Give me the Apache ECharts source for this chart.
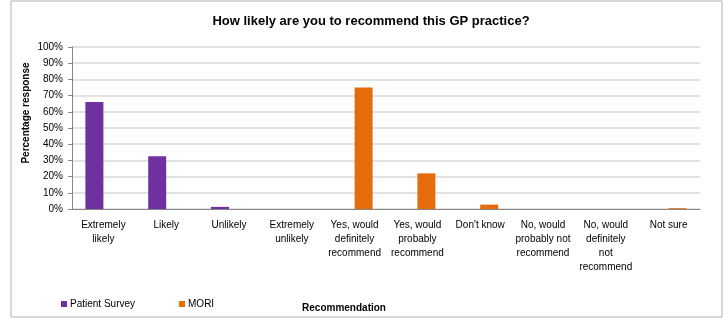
<!DOCTYPE html>
<html>
<head>
<meta charset="utf-8">
<script src="https://cdn.jsdelivr.net/npm/echarts@6/dist/echarts.min.js"></script>
<style>
  html, body { margin: 0; padding: 0; background: #fff; }
  #chart { width: 727px; height: 318px; }
</style>
</head>
<body>
<div id="chart"></div>
<script>
    var categories = [
        'Extremely\nlikely', 'Likely', 'Unlikely', 'Extremely\nunlikely',
        'Yes, would\ndefinitely\nrecommend', 'Yes, would\nprobably\nrecommend',
        "Don't know", 'No, would\nprobably not\nrecommend',
        'No, would\ndefinitely\nnot\nrecommend', 'Not sure'
    ];
    var patientSurvey = [66, 32.5, 1.3, 0, '-', '-', '-', '-', '-', '-'];
    var mori = ['-', '-', '-', '-', 75, 22, 2.7, 0, 0, 0.5];
    var yTicks = [0, 10, 20, 30, 40, 50, 60, 70, 80, 90, 100];

    var font = '"Liberation Sans", Arial, sans-serif';
    var chart = echarts.init(document.getElementById('chart'));

    chart.setOption({
        animation: false,
        textStyle: {fontFamily: font},
        title: [
            {
                text: 'How likely are you to recommend this GP practice?',
                left: 366, top: 10, textAlign: 'center',
                textStyle: {fontSize: 13, fontWeight: 'bold', color: '#000', fontFamily: font}
            },
            {
                text: 'Recommendation',
                left: 339, top: 298, textAlign: 'center',
                textStyle: {fontSize: 10, fontWeight: 'bold', color: '#000', fontFamily: font}
            }
        ],
        legend: {
            left: 56, top: 294,
            itemWidth: 6, itemHeight: 6, itemGap: 44,
            icon: 'rect',
            textStyle: {fontSize: 10, color: '#000', padding: [0, 0, 0, -2]},
            data: ['Patient Survey', 'MORI']
        },
        grid: {left: 72, right: 27, top: 47, bottom: 109},
        graphic: [
            {
                type: 'rect', silent: true,
                shape: {x: 11, y: 1, width: 711, height: 316},
                style: {fill: 'none', stroke: '#b0b0b0', lineWidth: 1}
            },
            {
                type: 'text', silent: true,
                x: 26, y: 113, rotation: Math.PI / 2,
                style: {
                    text: 'Percentage response', fontSize: 10, fontWeight: 'bold',
                    fill: '#000', fontFamily: font, align: 'center', verticalAlign: 'middle'
                }
            }
        ],
        xAxis: {
            type: 'category',
            data: categories,
            axisLine: {lineStyle: {color: '#868686'}},
            axisTick: {length: 4, lineStyle: {color: '#868686'}},
            axisLabel: {interval: 0, fontSize: 10, color: '#000', lineHeight: 14, margin: 9}
        },
        yAxis: {
            type: 'value',
            min: yTicks[0], max: yTicks[yTicks.length - 1], interval: 10,
            axisLine: {show: true, lineStyle: {color: '#868686'}},
            axisTick: {show: true, length: 4, lineStyle: {color: '#868686'}},
            splitLine: {lineStyle: {color: '#d9d9d9', width: 1.5}},
            axisLabel: {fontSize: 10, color: '#000', margin: 9, formatter: '{value}%'}
        },
        series: [
            {
                name: 'Patient Survey', type: 'bar', data: patientSurvey,
                barWidth: 18, barGap: '0%',
                itemStyle: {color: '#7030A0'}
            },
            {
                name: 'MORI', type: 'bar', data: mori,
                barWidth: 18, barGap: '0%',
                itemStyle: {color: '#E46C0A'}
            }
        ]
    });
</script>
</body>
</html>
